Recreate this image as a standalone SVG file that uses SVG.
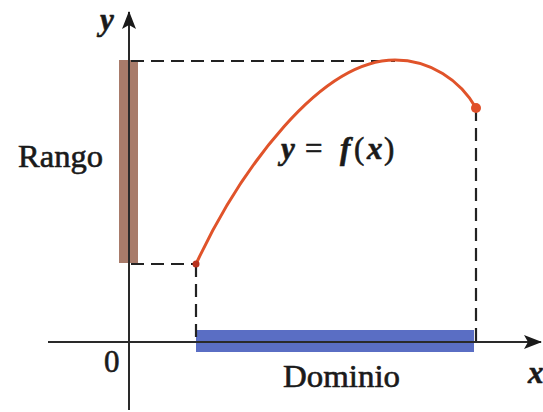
<svg xmlns="http://www.w3.org/2000/svg" width="543" height="412" viewBox="0 0 543 412">
<defs>
<style>
.ax{stroke:#2a2a2a;stroke-width:2;fill:none}
.dash{stroke:#222;stroke-width:2.2;fill:none;stroke-dasharray:13 7}
.t{font-family:'Liberation Serif','DejaVu Serif',serif;font-size:31px;fill:#1a1a1a;stroke:#1a1a1a;stroke-width:0.6}
.i{font-style:italic;font-weight:bold}
</style>
<marker id="arr" viewBox="0 0 18 14" refX="17" refY="7" markerWidth="18" markerHeight="14" markerUnits="userSpaceOnUse" orient="auto">
<path d="M0,0 L18,7 L0,14 L4,7 Z" fill="#1a1a1a"/>
</marker>
</defs>
<rect width="543" height="412" fill="#fff"/>
<g id="range-bar"><rect x="119" y="60" width="19" height="203" fill="#a87b6a"/></g>
<g id="domain-bar"><rect x="196" y="330" width="278" height="22" fill="#5a6ec4"/></g>
<g id="connectors">
<line class="ax" x1="48" y1="342" x2="541" y2="342" marker-end="url(#arr)"/>
<line class="ax" x1="129" y1="410" x2="129" y2="12" marker-end="url(#arr)"/>
<line class="dash" x1="131" y1="61" x2="395" y2="61"/>
<line class="dash" x1="131" y1="264" x2="196" y2="264"/>
<line class="dash" x1="196" y1="264" x2="196" y2="342"/>
<line class="dash" x1="476" y1="108" x2="476" y2="342"/>
</g>
<g id="curve">
<path d="M196,264 C240,170 320,60 395,60 C430,60 460,80 476,108" fill="none" stroke="#e0532a" stroke-width="3"/>
<circle cx="196" cy="264" r="3.5" fill="#b8321e"/>
<circle cx="476" cy="108" r="5" fill="#e0502a"/>
</g>
<g id="labels">
<text class="t i" x="100" y="30">y</text>
<text class="t" x="18" y="167" textLength="85" lengthAdjust="spacingAndGlyphs">Rango</text>
<text class="t" x="104" y="372">0</text>
<text class="t" x="283" y="387" textLength="117" lengthAdjust="spacingAndGlyphs">Dominio</text>
<text class="t i" x="528" y="383">x</text>
<text class="t" y="159"><tspan class="i" x="281">y</tspan><tspan x="305">=</tspan><tspan class="i" x="340">f</tspan><tspan x="354">(</tspan><tspan class="i" x="367">x</tspan><tspan x="384">)</tspan></text>
</g>
</svg>
